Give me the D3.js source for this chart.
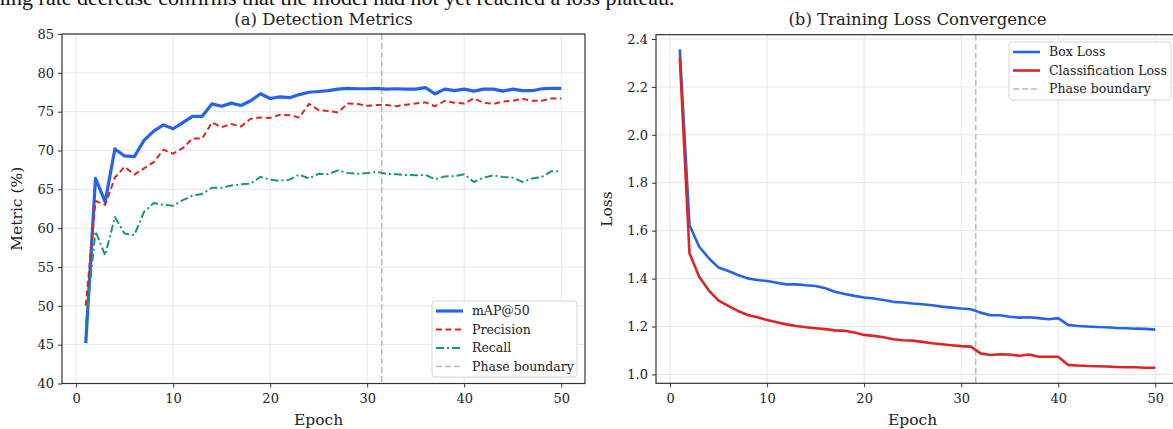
<!DOCTYPE html>
<html lang="en">
<head>
    <meta charset="UTF-8">
    <title>Training curves</title>
    <script src="https://d3js.org/d3.v7.min.js"></script>
    <style>
        body { margin: 0; background: #fff; }
        svg { display: block; font-family: "DejaVu Serif", serif; }
    </style>
</head>
<body>
    <svg></svg>

    <script>
        const W = 1173;
        const H = 429;

        const epochs = d3.range(1, 51);
        const phaseBoundary = 31.5;

        const mAP50 = [45.2, 66.4, 63.4, 70.2, 69.3, 69.2, 71.3, 72.5, 73.3, 72.8,
            73.6, 74.4, 74.4, 76.0, 75.7, 76.1, 75.8, 76.4, 77.3, 76.7,
            76.9, 76.8, 77.2, 77.5, 77.6, 77.7, 77.9, 78.0, 77.95, 77.95,
            78.0, 77.9, 77.95, 77.9, 77.9, 78.1, 77.3, 77.9, 77.7, 77.9,
            77.65, 77.9, 77.9, 77.65, 77.9, 77.7, 77.7, 77.95, 78.0, 78.0];
        const precision = [50.0, 63.5, 63.0, 66.5, 67.9, 66.9, 67.7, 68.5, 70.1, 69.6,
            70.3, 71.55, 71.55, 73.6, 73.0, 73.4, 73.1, 74.1, 74.25, 74.2,
            74.6, 74.55, 74.25, 76.0, 75.2, 75.1, 74.9, 76.05, 76.0, 75.75,
            75.85, 75.85, 75.7, 75.9, 76.05, 76.2, 75.7, 76.4, 76.15, 76.05,
            76.7, 76.15, 76.0, 76.3, 76.4, 76.65, 76.4, 76.4, 76.7, 76.7];
        const recall = [47.5, 59.6, 56.5, 61.45, 59.3, 59.1, 62.1, 63.25, 63.0, 62.9,
            63.6, 64.2, 64.4, 65.2, 65.2, 65.5, 65.65, 65.75, 66.6, 66.25,
            66.1, 66.25, 66.9, 66.4, 67.0, 66.95, 67.45, 67.1, 67.0, 67.1,
            67.25, 67.0, 66.95, 66.85, 66.8, 66.85, 66.3, 66.65, 66.7, 66.95,
            65.95, 66.5, 66.8, 66.6, 66.5, 65.95, 66.4, 66.6, 67.35, 67.3];

        const boxLoss = [2.357, 1.624, 1.533, 1.485, 1.446, 1.432, 1.415, 1.401, 1.394, 1.39,
            1.383, 1.376, 1.376, 1.372, 1.369, 1.36, 1.345, 1.336, 1.328, 1.321,
            1.317, 1.311, 1.303, 1.3, 1.296, 1.293, 1.289, 1.283, 1.279, 1.275,
            1.272, 1.258, 1.247, 1.247, 1.241, 1.237, 1.239, 1.235, 1.23, 1.235,
            1.207, 1.202, 1.2, 1.198, 1.197, 1.194, 1.193, 1.191, 1.19, 1.187];
        const clsLoss = [2.324, 1.506, 1.408, 1.35, 1.308, 1.286, 1.265, 1.248, 1.239, 1.227,
            1.218, 1.209, 1.202, 1.197, 1.193, 1.189, 1.184, 1.182, 1.175, 1.165,
            1.161, 1.155, 1.147, 1.143, 1.141, 1.136, 1.13, 1.126, 1.122, 1.118,
            1.116, 1.088, 1.081, 1.084, 1.083, 1.078, 1.083, 1.074, 1.074, 1.074,
            1.04, 1.037, 1.035, 1.034, 1.033, 1.031, 1.03, 1.03, 1.028, 1.028];

        const xTicks = [0, 10, 20, 30, 40, 50];
        const metricTicks = [40, 45, 50, 55, 60, 65, 70, 75, 80, 85];
        const lossTicks = [1.0, 1.2, 1.4, 1.6, 1.8, 2.0, 2.2, 2.4];

        const blue = "#2563eb";
        const red = "#dc2626";
        const green = "#139a6c";
        const gray = "#bdbdbd";
        const spine = "#333";

        const svg = d3.select("svg")
            .attr("width", W)
            .attr("height", H);

        // cut-off caption line at the very top
        svg.append("text")
            .attr("x", -6)
            .attr("y", 5)
            .attr("font-family", "Liberation Serif, serif")
            .attr("font-size", 22)
            .attr("fill", "#111")
            .text("ning rate decrease confirms that the model had not yet reached a loss plateau.");

        function panel(opts) {
            const x = d3.scaleLinear().domain([-1.45, 52.45]).range([opts.left, opts.right]);
            const y = d3.scaleLinear().domain(opts.yDomain).range([opts.bottom, opts.top]);
            const g = svg.append("g");

            // grid
            g.selectAll(".gx").data(xTicks).enter().append("line")
                .attr("x1", d => x(d)).attr("x2", d => x(d))
                .attr("y1", opts.top).attr("y2", opts.bottom)
                .attr("stroke", "#e6e6e6").attr("stroke-width", 1);
            g.selectAll(".gy").data(opts.yTicks).enter().append("line")
                .attr("x1", opts.left).attr("x2", opts.right)
                .attr("y1", d => y(d)).attr("y2", d => y(d))
                .attr("stroke", "#e6e6e6").attr("stroke-width", 1);

            // phase boundary
            g.append("line")
                .attr("x1", x(phaseBoundary)).attr("x2", x(phaseBoundary))
                .attr("y1", opts.top).attr("y2", opts.bottom)
                .attr("stroke", gray).attr("stroke-width", 1.6)
                .attr("stroke-dasharray", "6,3");

            // series
            const line = d3.line().x((d, i) => x(epochs[i])).y(d => y(d));
            opts.series.forEach(s => {
                g.append("path")
                    .datum(s.values)
                    .attr("d", line)
                    .attr("fill", "none")
                    .attr("stroke", s.color)
                    .attr("stroke-width", s.width)
                    .attr("stroke-dasharray", s.dash || null)
                    .attr("stroke-linejoin", "round");
            });

            // axes
            const xAxis = g.append("g")
                .attr("transform", `translate(0,${opts.bottom})`)
                .call(d3.axisBottom(x).tickValues(xTicks).tickSize(4).tickPadding(4).tickFormat(d3.format("d")));
            const yAxis = g.append("g")
                .attr("transform", `translate(${opts.left},0)`)
                .call(d3.axisLeft(y).tickValues(opts.yTicks).tickSize(4).tickPadding(4).tickFormat(opts.fmt));
            [xAxis, yAxis].forEach(a => {
                a.select(".domain").remove();
                a.selectAll("line").attr("stroke", spine);
                a.selectAll("text").attr("font-family", "DejaVu Serif, serif")
                    .attr("font-size", 13).attr("fill", "#222");
            });
            xAxis.selectAll("text").attr("dy", "0.9em");

            // spines
            g.append("rect")
                .attr("x", opts.left).attr("y", opts.top)
                .attr("width", opts.right - opts.left).attr("height", opts.bottom - opts.top)
                .attr("fill", "none").attr("stroke", spine).attr("stroke-width", 1.2);

            // title and labels
            g.append("text")
                .attr("x", (opts.left + opts.right) / 2).attr("y", 25)
                .attr("text-anchor", "middle").attr("font-size", 16.5).attr("fill", "#222")
                .text(opts.title);
            g.append("text")
                .attr("x", x(25)).attr("y", 425)
                .attr("text-anchor", "middle").attr("font-size", 15.5).attr("fill", "#222")
                .text("Epoch");
            g.append("text")
                .attr("transform", `translate(${opts.ylabelX},${(opts.top + opts.bottom) / 2}) rotate(-90)`)
                .attr("text-anchor", "middle").attr("font-size", 15.5).attr("fill", "#222")
                .text(opts.ylabel);

            // legend
            const lg = g.append("g").attr("transform", `translate(${opts.legend.x},${opts.legend.y})`);
            lg.append("rect")
                .attr("width", opts.legend.w).attr("height", opts.legend.h)
                .attr("rx", 3).attr("fill", "#fff").attr("fill-opacity", 0.85)
                .attr("stroke", "#d6d6d6");
            const items = opts.series.concat([{ label: "Phase boundary", color: gray, width: 1.6, dash: "6,3" }]);
            items.forEach((s, i) => {
                const yy = 10 + i * 18.5;
                lg.append("line")
                    .attr("x1", 4).attr("x2", 31).attr("y1", yy).attr("y2", yy)
                    .attr("stroke", s.color).attr("stroke-width", s.width)
                    .attr("stroke-dasharray", s.dash || null);
                lg.append("text")
                    .attr("x", 40).attr("y", yy).attr("dy", "0.35em")
                    .attr("font-size", 12.5).attr("fill", "#222")
                    .text(s.label);
            });
        }

        panel({
            left: 62, right: 585, top: 34, bottom: 383.5,
            yDomain: [40, 85], yTicks: metricTicks, fmt: d3.format("d"),
            title: "(a) Detection Metrics", ylabel: "Metric (%)", ylabelX: 22,
            series: [
                { label: "mAP@50", values: mAP50, color: blue, width: 3.2 },
                { label: "Precision", values: precision, color: red, width: 2, dash: "6,3.5" },
                { label: "Recall", values: recall, color: green, width: 2, dash: "8,3,2,3" }
            ],
            legend: { x: 432, y: 301, w: 145, h: 76 }
        });

        panel({
            left: 656, right: 1179, top: 34.7, bottom: 383.3,
            yDomain: [0.963, 2.418], yTicks: lossTicks, fmt: d3.format(".1f"),
            title: "(b) Training Loss Convergence", ylabel: "Loss", ylabelX: 612,
            series: [
                { label: "Box Loss", values: boxLoss, color: blue, width: 2.6 },
                { label: "Classification Loss", values: clsLoss, color: red, width: 2.6 }
            ],
            legend: { x: 1009, y: 42, w: 162, h: 58 }
        });
    </script>
</body>
</html>
